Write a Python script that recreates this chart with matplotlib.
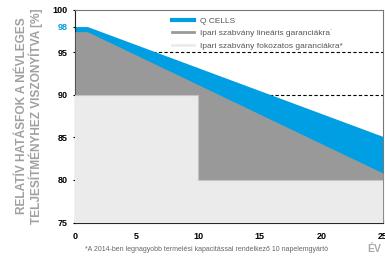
import matplotlib
matplotlib.use("Agg")
import matplotlib.pyplot as plt
from matplotlib.lines import Line2D

# data
q_years = [0, 1, 25]
q_cells = [98.0, 98.0, 85.1]

lin_years = [0, 1, 25]
linear = [97.4, 97.4, 80.8]

step_years = [0, 10, 10, 25]
step_vals = [90, 90, 80, 80]

dash_levels = [95, 90]

x_ticks = [0, 5, 10, 15, 20, 25]
y_ticks = [75, 80, 85, 90, 95, 100]

labels = ["Q CELLS",
          "Ipari szabvány lineáris garanciákra˙",
          "Ipari szabvány fokozatos garanciákra*"]

BLUE = "#009fe3"
GRAY = "#999999"
LIGHT = "#ebebeb"

plt.rcParams["font.family"] = ["Liberation Sans", "DejaVu Sans"]

fig = plt.figure(figsize=(3.85, 2.57), dpi=100)
ax = fig.add_axes([0.195, 0.134, 0.8, 0.829])

for lv in dash_levels:
    ax.plot([0, 25], [lv, lv], color="black", lw=0.8, dashes=(3, 2), zorder=1)

ax.fill_between(q_years, 75, q_cells, color=BLUE, lw=0, zorder=2)
ax.fill_between(lin_years, 75, linear, color=GRAY, lw=0, zorder=3)
ax.fill_between(step_years, 75, step_vals, color=LIGHT, lw=0, zorder=4)
ax.plot(step_years, step_vals, color="#c4c4c4", lw=0.8, zorder=5)

ax.set_xlim(0, 25)
ax.set_ylim(75, 100)
ax.set_xticks(x_ticks)
ax.set_yticks(y_ticks + [98])
ax.set_yticklabels([str(v) for v in y_ticks] + ["98"])
ax.get_yticklabels()[-1].set_color(BLUE)
for t in ax.get_xticklabels() + ax.get_yticklabels():
    t.set_fontweight("bold")
ax.tick_params(axis="x", direction="in", length=3, width=0.8, labelsize=6.5, pad=7)
ax.tick_params(axis="y", direction="out", length=1.5, width=0.8, labelsize=6.5, pad=4)
for s in ax.spines.values():
    s.set_linewidth(0.8)
    s.set_color("#222222")
ax.spines["right"].set_color("#777777")
ax.spines["top"].set_color("#777777")

ax.set_ylabel("RELATÍV HATÁSFOK A NÉVLEGES\nTELJESÍTMÉNYHEZ VISZONYÍTVA [%]",
              fontsize=8.6, fontweight="bold", color="#a0a0a0", labelpad=7,
              linespacing=1.0)

handles = [Line2D([], [], color=BLUE, lw=3),
           Line2D([], [], color=GRAY, lw=2),
           Line2D([], [], color=LIGHT, lw=2)]
leg = ax.legend(handles, labels, loc="upper left", bbox_to_anchor=(0.29, 1.0),
                frameon=False, fontsize=6.0, handlelength=2.6, handletextpad=0.8,
                labelspacing=0.55)
for t in leg.get_texts():
    t.set_color("#555555")

fig.text(0.221, 0.022, "*A 2014-ben legnagyobb termelési kapacitással rendelkező 10 napelemgyártó",
         fontsize=5.0, color="#666666")
fig.text(0.955, 0.02, "ÉV", fontsize=7.5, fontweight="bold", color="#aaaaaa")

fig.savefig("out.png", dpi=100)
